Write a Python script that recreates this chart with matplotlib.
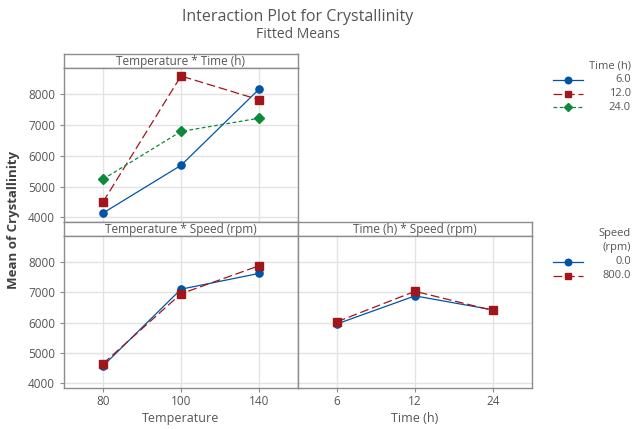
import matplotlib
matplotlib.use("Agg")
import matplotlib.pyplot as plt
from matplotlib.lines import Line2D

plt.rcParams['font.family'] = ['Open Sans', 'DejaVu Sans']

temps = ["80", "100", "140"]
times = ["6", "12", "24"]

# Temperature * Time
tt_time_labels = ["6.0", "12.0", "24.0"]
tt_6 = [4140, 5690, 8160]
tt_12 = [4500, 8590, 7820]
tt_24 = [5240, 6790, 7220]

# Temperature * Speed
speed_labels = ["0.0", "800.0"]
ts_0 = [4574, 7100, 7620]
ts_800 = [4650, 6950, 7870]

# Time * Speed
hs_0 = [5958, 6880, 6420]
hs_800 = [6030, 7030, 6400]

yticks = [4000, 5000, 6000, 7000, 8000]

W, H = 636, 429
fig = plt.figure(figsize=(W / 100, H / 100), dpi=100)

TXT = "#555555"
EDGE = "#8c8c8c"
GRID = "#e3e3e3"
BLUE = "#0054A6"
RED = "#A0161B"
GREEN = "#0A8A3A"

styles = {
    "blue": dict(color=BLUE, marker="o", ls="-", lw=0.9, ms=5.2),
    "red": dict(color=RED, marker="s", ls=(0, (7, 3)), lw=0.9, ms=5.2),
    "green": dict(color=GREEN, marker="D", ls=(0, (3, 2)), lw=0.9, ms=4.8),
}


def pax(x0, x1, y0, y1):
    return fig.add_axes([x0 / W, 1 - y1 / H, (x1 - x0) / W, (y1 - y0) / H])


def panel(x0, x1, ys, yp, yb, title, xlabels, showy, showx):
    st = pax(x0, x1, ys, yp)
    st.set_xticks([]); st.set_yticks([])
    for s in st.spines.values():
        s.set_color(EDGE); s.set_linewidth(1.0)
    st.text(0.5, 0.45, title, ha="center", va="center", fontsize=8.5, color=TXT,
            transform=st.transAxes)
    ax = pax(x0, x1, yp, yb)
    ax.set_xlim(-0.5, 2.5)
    ax.set_ylim(3850, 8850)
    ax.set_yticks(yticks)
    ax.set_xticks(range(len(xlabels)))
    ax.grid(True, color=GRID, lw=1.0)
    ax.set_axisbelow(True)
    for s in ax.spines.values():
        s.set_color(EDGE); s.set_linewidth(1.0)
    ax.tick_params(colors=EDGE, labelcolor=TXT, labelsize=8.5, length=3, width=0.8)
    ax.tick_params(axis="x", pad=2)
    if showx:
        ax.set_xticklabels(xlabels)
    else:
        ax.tick_params(axis="x", length=0, labelbottom=False)
    if not showy:
        ax.tick_params(axis="y", length=0, labelleft=False)
    return ax


ax1 = panel(64, 298, 54, 68, 222, "Temperature * Time (h)", temps, True, False)
x = range(3)
ax1.plot(x, tt_6, **styles["blue"])
ax1.plot(x, tt_12, **styles["red"])
ax1.plot(x, tt_24, **styles["green"])

ax2 = panel(64, 298, 222, 236, 388, "Temperature * Speed (rpm)", temps, True, True)
ax2.plot(x, ts_0, **styles["blue"])
ax2.plot(x, ts_800, **styles["red"])
ax2.set_xlabel("Temperature", fontsize=9, color=TXT, labelpad=3)

ax3 = panel(298, 532, 222, 236, 388, "Time (h) * Speed (rpm)", times, False, True)
ax3.plot(x, hs_0, **styles["blue"])
ax3.plot(x, hs_800, **styles["red"])
ax3.set_xlabel("Time (h)", fontsize=9, color=TXT, labelpad=3)

fig.text(298 / W, 1 - 17 / H, "Interaction Plot for Crystallinity", ha="center", va="center",
         fontsize=11.5, color=TXT)
fig.text(298 / W, 1 - 34 / H, "Fitted Means", ha="center", va="center",
         fontsize=10, color=TXT)
fig.text(14 / W, 1 - 220 / H, "Mean of Crystallinity", rotation=90, ha="center", va="center",
         fontsize=9.5, fontweight="bold", color="#404040")


def legend(title_lines, labels, keys, ytop):
    y = ytop
    for t in title_lines:
        fig.text(631 / W, 1 - y / H, t, ha="right", va="center", fontsize=8, color=TXT)
        y += 14
    for lab, k in zip(labels, keys):
        st = dict(styles[k])
        fig.add_artist(Line2D([553 / W, 583 / W], [1 - y / H, 1 - y / H], transform=fig.transFigure,
                              color=st["color"], ls=st["ls"], lw=st["lw"]))
        fig.add_artist(Line2D([568 / W], [1 - y / H], transform=fig.transFigure,
                              marker=st["marker"], color=st["color"], ms=st["ms"] - 0.5, ls="none"))
        fig.text(631 / W, 1 - y / H, lab, ha="right", va="center", fontsize=8, color=TXT)
        y += 13.5


legend(["Time (h)"], tt_time_labels, ["blue", "red", "green"], 66)
legend(["Speed", "(rpm)"], speed_labels, ["blue", "red"], 234)

fig.savefig("out.png", dpi=100)
